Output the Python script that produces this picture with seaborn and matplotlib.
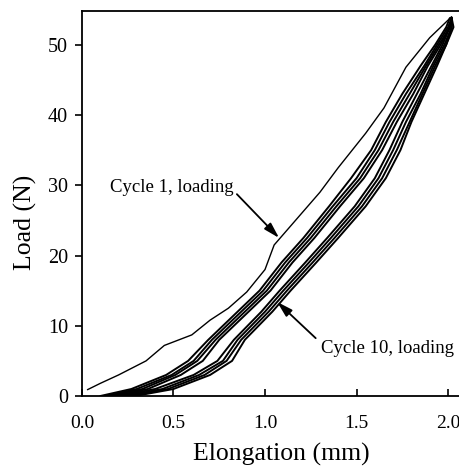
import pandas as pd
import matplotlib
matplotlib.use("Agg")
import matplotlib.pyplot as plt
import seaborn as sns

# Cycle 1 loading curve (elongation mm, load N)
c1_elong = [0.03, 0.10, 0.20, 0.35, 0.45, 0.60, 0.70, 0.80, 0.90, 1.00, 1.05, 1.10,
            1.20, 1.30, 1.40, 1.55, 1.65, 1.77, 1.90, 2.02]
c1_load = [0.9, 1.8, 3.0, 5.0, 7.2, 8.7, 10.8, 12.5, 14.8, 18.0, 21.5, 23.0,
           26.0, 29.0, 32.5, 37.4, 41.0, 46.8, 51.0, 54.0]

# later cycles: elongation read at these load levels
band_load = [0, 1, 3, 5, 8, 12, 15, 19, 22.5, 27, 31, 35, 39, 43, 47, 50, 52.5, 53.8]

upper_1 = [0.10, 0.27, 0.46, 0.58, 0.69, 0.85, 0.97, 1.09, 1.21, 1.35, 1.47, 1.58, 1.66, 1.75, 1.85, 1.93, 1.99, 2.01]
upper_2 = [0.13, 0.30, 0.49, 0.61, 0.71, 0.87, 0.99, 1.11, 1.23, 1.37, 1.50, 1.60, 1.68, 1.77, 1.87, 1.94, 2.00, 2.02]
upper_3 = [0.15, 0.33, 0.51, 0.63, 0.73, 0.89, 1.01, 1.13, 1.25, 1.39, 1.52, 1.62, 1.70, 1.79, 1.88, 1.95, 2.01, 2.02]
upper_4 = [0.18, 0.36, 0.54, 0.66, 0.75, 0.91, 1.03, 1.15, 1.27, 1.41, 1.54, 1.64, 1.72, 1.81, 1.89, 1.96, 2.01, 2.02]

lower_1 = [0.20, 0.40, 0.61, 0.74, 0.83, 0.98, 1.08, 1.22, 1.34, 1.49, 1.60, 1.68, 1.75, 1.83, 1.91, 1.97, 2.01, 2.02]
lower_2 = [0.23, 0.44, 0.64, 0.77, 0.85, 1.00, 1.10, 1.24, 1.36, 1.51, 1.62, 1.70, 1.77, 1.85, 1.92, 1.98, 2.02, 2.02]
lower_3 = [0.26, 0.47, 0.67, 0.79, 0.87, 1.02, 1.12, 1.26, 1.38, 1.53, 1.64, 1.72, 1.79, 1.86, 1.93, 1.99, 2.02, 2.02]
lower_4 = [0.29, 0.50, 0.70, 0.82, 0.89, 1.04, 1.14, 1.28, 1.40, 1.55, 1.66, 1.74, 1.80, 1.87, 1.94, 1.99, 2.03, 2.02]

bands = {"u1": upper_1, "u2": upper_2, "u3": upper_3, "u4": upper_4,
         "l1": lower_1, "l2": lower_2, "l3": lower_3, "l4": lower_4}

rows = []
for name, el in bands.items():
    for e, l in zip(el, band_load):
        rows.append({"curve": name, "elongation": e, "load": l})
df = pd.DataFrame(rows)
df1 = pd.DataFrame({"elongation": c1_elong, "load": c1_load})

sns.set_style("ticks")
plt.rcParams["font.family"] = ["Liberation Serif", "DejaVu Serif"]
plt.rcParams["text.color"] = "black"
plt.rcParams["axes.labelcolor"] = "black"
plt.rcParams["xtick.color"] = "black"
plt.rcParams["ytick.color"] = "black"
plt.rcParams["axes.edgecolor"] = "black"

fig = plt.figure(figsize=(4.59, 4.71), dpi=100)
ax = fig.add_axes([0.1786, 0.1592, 0.8214, 0.8174])

sns.lineplot(data=df, x="elongation", y="load", units="curve", estimator=None,
             sort=False, color="black", lw=1.4, ax=ax)
sns.lineplot(data=df1, x="elongation", y="load", estimator=None, sort=False,
             color="black", lw=1.0, ax=ax)

ax.set_xlim(0, 2.06)
ax.set_ylim(0, 54.8)
ax.set_xticks([0.0, 0.5, 1.0, 1.5, 2.0])
ax.set_xticklabels(["0.0", "0.5", "1.0", "1.5", "2.0"])
ax.set_yticks([0, 10, 20, 30, 40, 50])
ax.tick_params(axis="x", direction="in", length=5, width=1.2, pad=14, labelsize=14)
ax.tick_params(axis="y", direction="out", length=5, width=1.2, pad=5, labelsize=14.5)
ax.spines["right"].set_visible(False)
for s in ["left", "bottom", "top"]:
    ax.spines[s].set_linewidth(1.3)

ax.set_xlabel("Elongation (mm)", fontsize=18.5)
ax.set_ylabel("Load (N)", fontsize=18.5)
ax.xaxis.set_label_coords(0.528, -0.122)
ax.yaxis.set_label_coords(-0.12, 0.45)

ax.annotate("Cycle 1, loading", xy=(1.077, 22.5), xytext=(0.153, 29.7),
            fontsize=13.5, va="center", ha="left",
            arrowprops=dict(arrowstyle="-|>,head_length=0.7,head_width=0.2",
                            color="black", lw=1.3, shrinkA=0, shrinkB=0,
                            relpos=(1.0, 0.3)))
ax.annotate("Cycle 10, loading", xy=(1.066, 13.4), xytext=(1.306, 6.8),
            fontsize=13.5, va="center", ha="left",
            arrowprops=dict(arrowstyle="-|>,head_length=0.7,head_width=0.2",
                            color="black", lw=1.3, shrinkA=2, shrinkB=0,
                            relpos=(0.0, 0.8)))

fig.savefig("out.png", dpi=100)
